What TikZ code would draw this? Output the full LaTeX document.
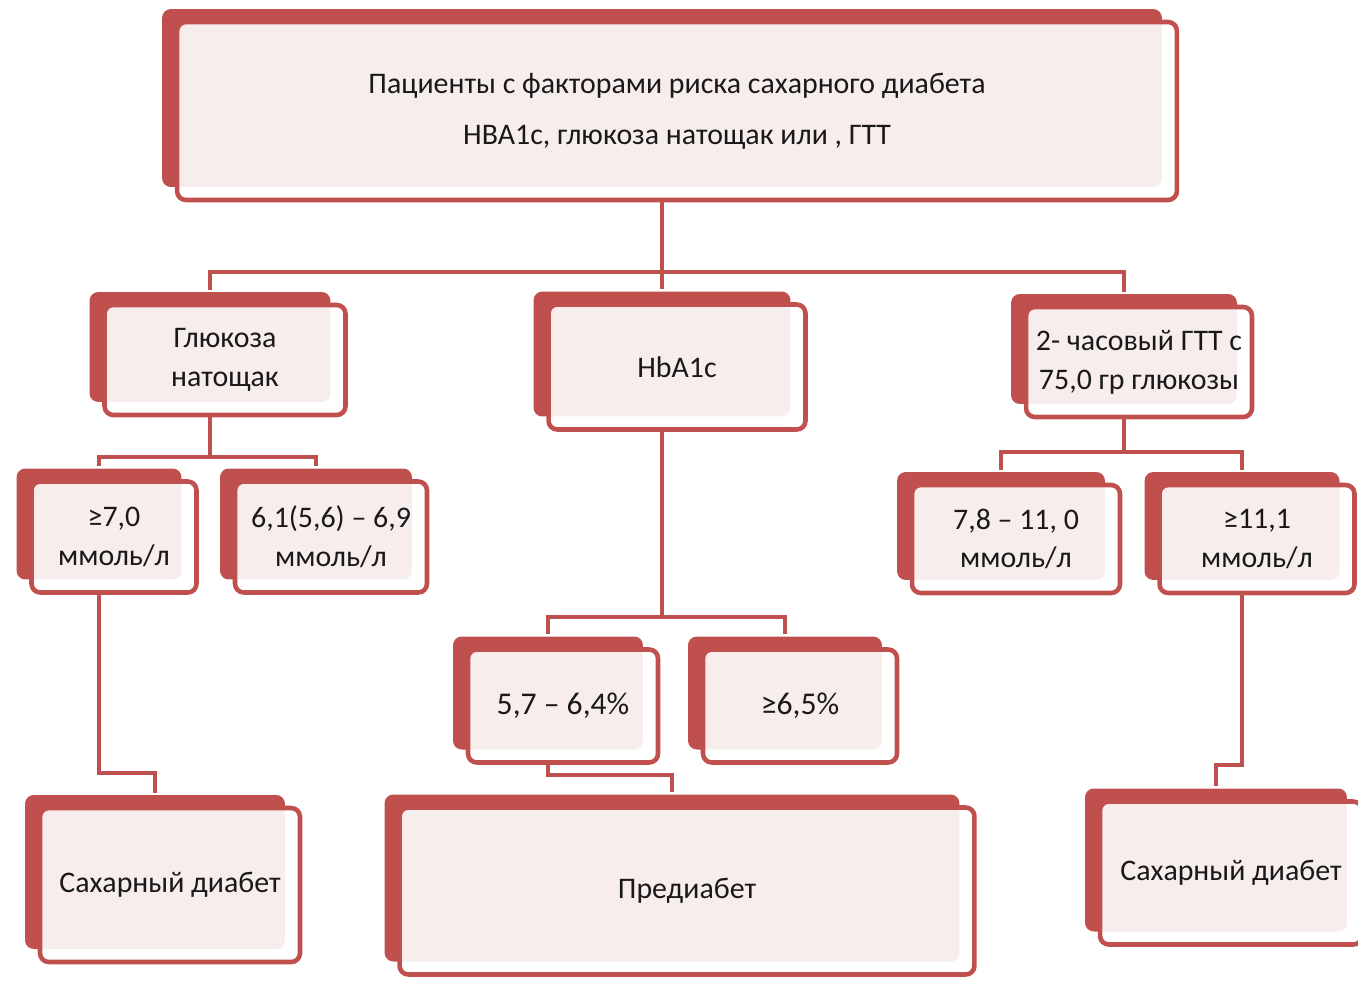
\documentclass[tikz,border=0pt]{standalone}
\usepackage{fontspec}
\setmainfont{Carlito}
\usepackage{tikz}
\usetikzlibrary{shadows,backgrounds}
\definecolor{boxred}{HTML}{C0504D}
\newcommand{\tilex}{0.3cm}
\newcommand{\tiley}{0.26cm}

\begin{document}
\begin{tikzpicture}[x=0.02cm, y=-0.02cm, font=\fontsize{17}{22}\selectfont,
  tile/.style={draw=boxred, line width=2.6pt, rounded corners=5pt, fill=white,
    fill opacity=0.9, text opacity=1, text=black!90, align=center, inner sep=2pt,
    copy shadow={shadow xshift=-\tilex, shadow yshift=\tiley, fill=boxred, draw=none, opacity=1}},
  link/.style={draw=boxred, line width=2.4pt}]
\useasboundingbox (0,0) rectangle (1358,980);
% top box
\node[tile, minimum width=20cm, minimum height=3.56cm] (main) at (677,111)
  {Пациенты с факторами риска сахарного диабета\\[7pt] HBA1c, глюкоза натощак или , ГТТ};
% the three tests
\node[tile, minimum width=4.82cm, minimum height=2.2cm] (gluc) at (225,360) {Глюкоза\\натощак};
\node[tile, minimum width=5.14cm, minimum height=2.5cm] (hba) at (677,367) {HbA1c};
\node[tile, minimum width=4.52cm, minimum height=2.2cm] (gtt) at (1139,362) {2- часовый ГТТ с\\75,0 гр глюкозы};
% thresholds
\node[tile, minimum width=3.3cm, minimum height=2.22cm] (ge7) at (114,537) {≥7,0\\ммоль/л};
\node[tile, minimum width=3.84cm, minimum height=2.22cm] (fgr) at (331,537) {6,1(5,6) – 6,9\\ммоль/л};
\node[tile, minimum width=4.16cm, minimum height=2.16cm] (ogt1) at (1016,539) {7,8 – 11, 0\\ммоль/л};
\node[tile, minimum width=3.9cm, minimum height=2.16cm] (ogt2) at (1257,539) {≥11,1\\ммоль/л};
\node[tile, minimum width=3.8cm, minimum height=2.26cm, font=\fontsize{18}{22}\selectfont] (pct1) at (563,706) {5,7 – 6,4\%};
\node[tile, minimum width=3.88cm, minimum height=2.26cm, font=\fontsize{18}{22}\selectfont] (pct2) at (800,706) {≥6,5\%};
% outcomes
\node[tile, minimum width=5.2cm, minimum height=3.08cm] (diab1) at (170,885) {Сахарный диабет};
\node[tile, minimum width=11.5cm, minimum height=3.34cm] (pre) at (687,891) {Предиабет};
\node[tile, minimum width=5.24cm, minimum height=2.86cm] (diab2) at (1231,873) {Сахарный диабет};
% connectors
\begin{scope}[on background layer]
\draw[link] ([xshift=-\tilex]main.south) -- ++(0,70) coordinate (top);
\draw[link] (top) -| ([xshift=-\tilex,yshift=\tiley]gluc.north);
\draw[link] (top) -- ([xshift=-\tilex,yshift=\tiley]hba.north);
\draw[link] (top) -| ([xshift=-\tilex,yshift=\tiley]gtt.north);
\draw[link] ([xshift=-\tilex]gluc.south) -- ++(0,40) coordinate (gsplit);
\draw[link] (gsplit) -| ([xshift=-\tilex,yshift=\tiley]ge7.north);
\draw[link] (gsplit) -| ([xshift=-\tilex,yshift=\tiley]fgr.north);
\draw[link] ([xshift=-\tilex]hba.south) -- ++(0,185) coordinate (hsplit);
\draw[link] (hsplit) -| ([xshift=-\tilex,yshift=\tiley]pct1.north);
\draw[link] (hsplit) -| ([xshift=-\tilex,yshift=\tiley]pct2.north);
\draw[link] ([xshift=-\tilex]gtt.south) -- ++(0,33) coordinate (tsplit);
\draw[link] (tsplit) -| ([xshift=-\tilex,yshift=\tiley]ogt1.north);
\draw[link] (tsplit) -| ([xshift=-\tilex,yshift=\tiley]ogt2.north);
\draw[link] ([xshift=-\tilex]ge7.south) -- ++(0,178) -| ([xshift=-\tilex,yshift=\tiley]diab1.north);
\draw[link] ([xshift=-\tilex]pct1.south) -- ++(0,10) -| ([xshift=-\tilex,yshift=\tiley]pre.north);
\draw[link] ([xshift=-\tilex]ogt2.south) -- ++(0,170) -| ([xshift=-\tilex,yshift=\tiley]diab2.north);
\end{scope}
\end{tikzpicture}
\end{document}
